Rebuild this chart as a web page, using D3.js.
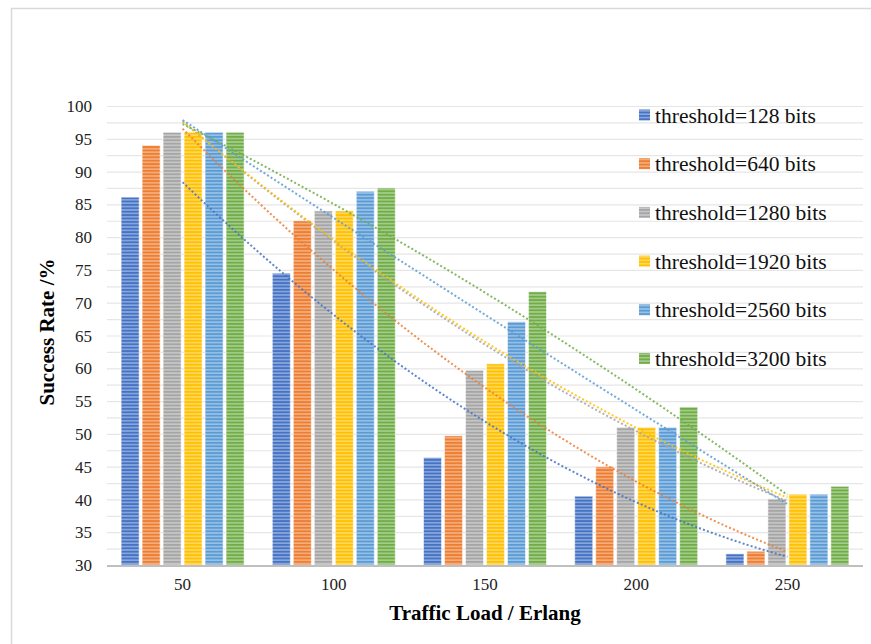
<!DOCTYPE html>
<html>
<head>
<meta charset="utf-8">
<script src="https://cdn.jsdelivr.net/npm/d3@7/dist/d3.min.js"></script>
<style>
  html, body { margin: 0; padding: 0; background: #fff; }
  svg { display: block; }
  svg text { font-family: "Liberation Serif", "DejaVu Serif", serif !important; }
</style>
</head>
<body>
<svg id="chart" width="871" height="644"></svg>
<script>
// Traffic load categories (Erlang)
const categories = ["50", "100", "150", "200", "250"];

// Threshold series names and colours
const seriesNames = [
  "threshold=128 bits",
  "threshold=640 bits",
  "threshold=1280 bits",
  "threshold=1920 bits",
  "threshold=2560 bits",
  "threshold=3200 bits"
];
const seriesColors = ["#4472C4", "#ED7D31", "#A5A5A5", "#FFC000", "#5B9BD5", "#70AD47"];

// Success rate (%) per threshold, one value per traffic load
const t128  = [86.1, 74.5, 46.4, 40.5, 31.7];
const t640  = [94.0, 82.5, 49.7, 45.0, 32.1];
const t1280 = [96.0, 84.0, 59.7, 51.0, 40.1];
const t1920 = [96.0, 84.0, 60.7, 51.0, 40.8];
const t2560 = [96.0, 87.0, 67.1, 51.0, 40.8];
const t3200 = [96.0, 87.5, 71.7, 54.1, 42.0];
const seriesValues = [t128, t640, t1280, t1920, t2560, t3200];

// Axis ticks
const yTickLabels = [30, 35, 40, 45, 50, 55, 60, 65, 70, 75, 80, 85, 90, 95, 100];
const yGridValues = [30, 32.5, 35, 37.5, 40, 42.5, 45, 47.5, 50, 52.5, 55, 57.5, 60, 62.5,
                     65, 67.5, 70, 72.5, 75, 77.5, 80, 82.5, 85, 87.5, 90, 92.5, 95, 97.5, 100];

const SERIF = '"Liberation Serif", "DejaVu Serif", serif';
const svg = d3.select("#chart");

// Chart frame
svg.append("rect")
  .attr("x", 11.5).attr("y", 8.5)
  .attr("width", 900).attr("height", 700)
  .attr("fill", "none").attr("stroke", "#d9d9d9").attr("stroke-width", 1.5);

const plot = { left: 107, right: 863, top: 106, bottom: 565 };

const x0 = d3.scaleBand()
  .domain(categories)
  .range([plot.left, plot.right])
  .paddingInner(0.1865)
  .paddingOuter(0.0933);

const x1 = d3.scaleBand()
  .domain(d3.range(seriesNames.length))
  .range([0, x0.bandwidth()])
  .paddingInner(0.14);

const y = d3.scaleLinear().domain([30, 100]).range([plot.bottom, plot.top]);

// Striped fills for bars
const defs = svg.append("defs");
seriesColors.forEach((c, i) => {
  const p = defs.append("pattern")
    .attr("id", "stripe" + i)
    .attr("patternUnits", "userSpaceOnUse")
    .attr("width", 8).attr("height", 3.4);
  p.append("rect").attr("width", 8).attr("height", 3.4).attr("fill", c);
  p.append("rect").attr("y", 1.8).attr("width", 8).attr("height", 1.6)
    .attr("fill", "#fff").attr("fill-opacity", 0.38);
});

// Gridlines
svg.append("g")
  .attr("transform", `translate(${plot.left},0)`)
  .call(d3.axisLeft(y).tickValues(yGridValues).tickSize(-(plot.right - plot.left)).tickFormat(""))
  .call(g => g.select(".domain").remove())
  .call(g => g.selectAll("line").attr("stroke", "#e6e6e6").attr("stroke-width", 1.2));

// Y tick labels
svg.append("g")
  .attr("transform", `translate(92,0)`)
  .call(d3.axisLeft(y).tickValues(yTickLabels).tickSize(0).tickPadding(0))
  .attr("font-family", SERIF)
  .attr("font-size", 17)
  .call(g => g.select(".domain").remove())
  .call(g => g.selectAll("text").attr("fill", "#222").attr("dy", "0.33em"));

// Bars
const groups = svg.append("g").selectAll("g")
  .data(categories)
  .join("g")
  .attr("transform", d => `translate(${x0(d)},0)`);

groups.selectAll("rect")
  .data((d, ci) => seriesValues.map((vals, si) => ({ si, v: vals[ci] })))
  .join("rect")
  .attr("x", d => x1(d.si))
  .attr("width", x1.bandwidth())
  .attr("y", d => y(d.v))
  .attr("height", d => y(30) - y(d.v))
  .attr("fill", d => `url(#stripe${d.si})`)
  .attr("stroke", "#ffffff").attr("stroke-opacity", 0.55).attr("stroke-width", 1);

// Baseline
svg.append("line")
  .attr("x1", plot.left).attr("x2", plot.right)
  .attr("y1", plot.bottom + 1).attr("y2", plot.bottom + 1)
  .attr("stroke", "#bfbfbf").attr("stroke-width", 2);

// X tick labels
svg.append("g")
  .attr("transform", `translate(0,${plot.bottom + 1})`)
  .call(d3.axisBottom(x0).tickSize(0).tickPadding(12))
  .attr("font-family", SERIF)
  .attr("font-size", 17)
  .call(g => g.select(".domain").remove())
  .call(g => g.selectAll("text").attr("fill", "#222"));

// Second-order polynomial trendlines (least squares on category index)
function quadFit(vals) {
  const n = vals.length;
  const xs = d3.range(1, n + 1);
  const S = k => d3.sum(xs, xv => Math.pow(xv, k));
  const T = k => d3.sum(xs, (xv, i) => Math.pow(xv, k) * vals[i]);
  const A = [[S(0), S(1), S(2)], [S(1), S(2), S(3)], [S(2), S(3), S(4)]];
  const b = [T(0), T(1), T(2)];
  for (let i = 0; i < 3; i++) {
    for (let j = i + 1; j < 3; j++) {
      const f = A[j][i] / A[i][i];
      for (let k = i; k < 3; k++) A[j][k] -= f * A[i][k];
      b[j] -= f * b[i];
    }
  }
  const c = [0, 0, 0];
  for (let i = 2; i >= 0; i--) {
    let s = b[i];
    for (let k = i + 1; k < 3; k++) s -= A[i][k] * c[k];
    c[i] = s / A[i][i];
  }
  return t => c[0] + c[1] * t + c[2] * t * t;
}

const catCenter = i => x0(categories[i]) + x0.bandwidth() / 2;
const tScale = d3.scaleLinear().domain([1, categories.length])
  .range([catCenter(0), catCenter(categories.length - 1)]);

const trendLine = d3.line().x(d => tScale(d.t)).y(d => y(d.v));

seriesValues.forEach((vals, si) => {
  const f = quadFit(vals);
  const pts = d3.range(1, categories.length + 0.001, 0.1).map(t => ({ t, v: f(t) }));
  svg.append("path")
    .datum(pts)
    .attr("d", trendLine)
    .attr("fill", "none")
    .attr("stroke", seriesColors[si])
    .attr("stroke-opacity", 0.85)
    .attr("stroke-width", 2)
    .attr("stroke-dasharray", "2 2.2");
});

// Legend
const legend = svg.append("g")
  .attr("font-family", SERIF)
  .selectAll("g")
  .data(seriesNames)
  .join("g")
  .attr("transform", (d, i) => `translate(639,${115 + i * 48.7})`);

legend.append("rect")
  .attr("x", 0).attr("y", -5.5)
  .attr("width", 11).attr("height", 11)
  .attr("fill", (d, i) => `url(#stripe${i})`);

legend.append("text")
  .attr("x", 16).attr("dy", "0.35em")
  .attr("font-size", 21.5)
  .attr("fill", "#111")
  .text(d => d);

// Axis titles
svg.append("text")
  .attr("x", 485).attr("y", 620)
  .attr("text-anchor", "middle")
  .attr("font-family", SERIF)
  .attr("font-size", 21).attr("font-weight", "bold")
  .text("Traffic Load / Erlang");

svg.append("text")
  .attr("transform", "translate(54,332) rotate(-90)")
  .attr("text-anchor", "middle")
  .attr("font-family", SERIF)
  .attr("font-size", 21).attr("font-weight", "bold")
  .text("Success Rate /%");
</script>
</body>
</html>
